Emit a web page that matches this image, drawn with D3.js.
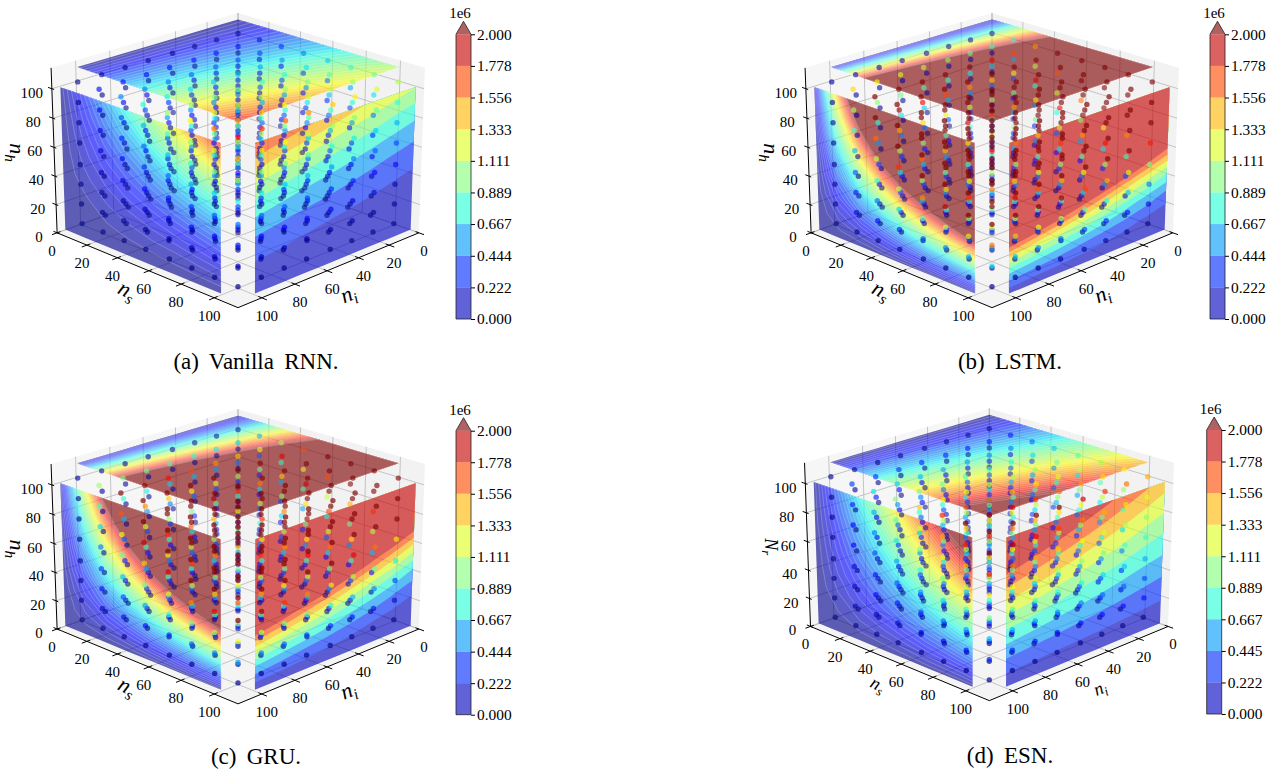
<!DOCTYPE html>
<html>
<head>
<meta charset="utf-8">
<script src="https://d3js.org/d3.v7.min.js"></script>
<style>
  html, body { margin: 0; background: #fff; }
  text { font-family: "Liberation Serif", serif; fill: #000; }
</style>
</head>
<body>
<div id="chart"></div>
<script>
// Grid levels shared by the three inputs
var nsLevels = [1, 15, 29, 43, 58, 72, 86, 100];
var niLevels = [1, 15, 29, 43, 58, 72, 86, 100];
var nhLevels = [1, 15, 29, 43, 58, 72, 86, 100];
var axisTicks = [0, 20, 40, 60, 80, 100];

// Colourbar (values in units of 1e4, same as the tables below)
var barLevels = [0, 22.2, 44.4, 66.7, 88.9, 111.1, 133.3, 155.6, 177.8, 200];
var barLabels = ["0.000", "0.222", "0.444", "0.667", "0.889", "1.111", "1.333", "1.556", "1.778", "2.000"];
var barLabelsEsn = ["0.000", "0.222", "0.445", "0.667", "0.889", "1.111", "1.333", "1.556", "1.778", "2.000"];

var rnnValues = [
 [[0,0,0,0,0,0,0,0],[0,0,0,0,0,0,0,0],[0,0,0,0,0,0,0,0],[0,0,0,0,0,0,0,0],[0,0,0,0,0,0,0,0],[0,0,0,0,0,0,0,1],[0,0,0,0,0,0,1,1],[0,0,0,0,0,1,1,1]],
 [[0,0,1,1,1,2,2,3],[0,1,1,2,2,3,3,4],[0,1,2,2,3,4,5,6],[0,1,2,3,4,5,6,7],[0,1,2,4,5,6,7,9],[0,2,3,4,6,7,9,10],[0,2,3,5,7,8,10,12],[0,2,4,6,8,9,11,13]],
 [[0,1,3,4,5,7,8,9],[0,2,4,5,7,9,11,12],[0,2,4,6,9,11,13,15],[0,3,5,8,10,13,15,18],[0,3,6,9,12,15,18,21],[0,4,7,10,14,17,21,24],[0,4,8,11,15,19,23,27],[0,4,9,13,17,21,25,30]],
 [[0,3,6,9,12,15,18,21],[0,4,7,11,14,18,21,25],[0,4,8,13,17,21,25,29],[0,5,10,14,19,24,29,33],[0,6,11,16,22,27,33,38],[0,6,12,18,24,30,36,42],[0,7,13,20,27,33,40,46],[1,8,15,22,29,36,43,50]],
 [[0,6,11,16,22,27,32,37],[0,6,12,19,25,31,37,43],[0,7,14,21,28,35,42,49],[1,8,16,23,32,39,47,55],[1,9,18,26,35,44,52,61],[1,10,19,28,38,48,57,66],[1,11,21,31,42,52,62,72],[1,12,23,33,45,56,67,78]],
 [[1,9,17,25,33,41,49,58],[1,10,19,28,37,47,56,65],[1,11,21,31,42,52,62,72],[1,12,23,34,46,57,68,79],[1,13,25,37,50,62,74,86],[1,14,27,40,54,67,80,93],[1,15,29,43,58,72,86,100],[1,16,31,46,62,77,92,107]],
 [[1,12,24,35,48,59,71,82],[1,14,26,39,52,65,78,90],[1,15,29,42,57,71,85,99],[1,16,31,46,62,77,92,107],[1,17,34,50,67,84,100,116],[1,19,36,54,72,90,107,125],[1,20,39,57,77,96,114,133],[1,21,41,61,82,102,122,142]],
 [[1,17,32,48,64,80,95,111],[1,18,35,52,70,87,104,121],[1,20,38,56,76,94,112,130],[1,21,41,60,81,101,120,140],[2,23,44,65,87,108,130,151],[2,24,47,69,93,115,138,160],[2,26,49,73,99,123,146,170],[2,27,52,77,104,130,155,180]]
];

var lstmValues = [
 [[0,0,0,0,0,0,0,0],[0,0,0,0,0,0,1,1],[0,0,0,1,1,1,1,1],[0,0,1,1,1,1,1,2],[0,0,1,1,1,2,2,2],[0,0,1,1,2,2,2,3],[0,1,1,1,2,2,3,3],[0,1,1,2,2,3,3,4]],
 [[0,2,4,5,7,9,11,12],[0,3,6,9,12,15,18,21],[0,4,8,12,17,21,25,29],[0,6,11,16,21,27,32,37],[0,7,13,20,26,33,39,46],[1,8,16,23,31,39,46,54],[1,9,18,27,36,45,53,62],[1,11,20,30,41,51,60,70]],
 [[0,7,13,19,26,32,39,45],[1,9,18,26,35,44,52,61],[1,11,22,33,44,55,66,77],[1,14,27,40,54,67,80,93],[1,16,32,47,63,79,94,109],[1,19,36,54,73,90,108,125],[1,21,41,61,82,101,121,141],[2,24,45,67,91,113,135,157]],
 [[1,15,28,42,57,71,84,98],[1,18,35,52,71,88,105,122],[1,22,42,62,84,104,125,145],[2,25,49,72,98,121,145,169],[2,29,56,83,112,139,166,194],[2,33,63,93,126,156,187,217],[2,36,70,103,139,173,207,240],[3,40,77,114,153,190,227,264]],
 [[2,27,51,76,103,128,153,178],[2,31,61,90,121,151,180,209],[2,36,70,104,140,173,207,241],[3,41,79,117,158,196,234,273],[3,46,89,132,178,220,263,306],[3,51,98,145,196,243,291,338],[4,55,107,159,214,266,318,370],[4,60,116,173,233,289,345,401]],
 [[3,41,79,117,158,196,234,272],[3,47,90,134,181,224,268,312],[4,53,102,151,203,252,302,351],[4,59,113,168,226,281,336,390],[4,65,125,186,251,311,372,432],[5,71,137,203,274,340,406,472],[5,77,148,220,296,368,439,511],[6,83,160,237,319,396,473,550]],
 [[4,58,112,167,225,279,334,388],[4,65,126,187,252,313,374,435],[5,72,140,207,279,347,414,482],[5,79,153,227,307,381,455,529],[6,87,168,249,336,417,498,579],[6,94,182,269,363,451,538,626],[7,101,195,289,390,484,578,673],[7,108,209,310,417,518,619,720]],
 [[5,79,152,225,304,377,451,524],[6,87,168,249,336,417,498,579],[6,95,184,272,367,456,544,633],[7,103,200,296,399,495,592,688],[7,112,216,321,433,537,642,746],[8,120,232,344,465,577,689,801],[9,128,248,368,496,616,735,855],[9,137,264,391,528,655,783,910]]
];

var gruValues = [
 [[0,0,0,0,0,0,0,0],[0,0,0,0,0,0,0,1],[0,0,0,0,1,1,1,1],[0,0,0,1,1,1,1,1],[0,0,1,1,1,1,2,2],[0,0,1,1,1,2,2,2],[0,0,1,1,2,2,2,3],[0,1,1,1,2,2,3,3]],
 [[0,1,3,4,5,7,8,9],[0,2,5,7,9,12,14,16],[0,3,7,10,13,17,20,23],[0,4,9,13,17,22,26,30],[0,6,11,16,22,27,32,37],[0,7,13,19,26,32,38,44],[1,8,15,22,30,37,44,51],[1,9,17,25,34,42,50,58]],
 [[0,5,10,14,19,24,28,33],[0,7,14,20,27,34,40,47],[1,9,17,26,35,43,52,60],[1,11,21,32,43,53,63,73],[1,13,25,38,51,63,76,88],[1,15,29,44,59,73,87,101],[1,17,33,49,67,83,99,115],[1,19,37,55,74,92,110,128]],
 [[1,11,21,31,42,52,62,72],[1,14,27,40,54,67,80,93],[1,17,33,48,65,81,96,112],[1,20,38,57,77,95,114,132],[2,23,45,66,89,111,132,154],[2,26,50,75,101,125,149,173],[2,29,56,83,112,139,166,194],[2,32,62,92,124,154,183,213]],
 [[1,20,38,56,76,94,112,131],[2,24,46,68,92,114,136,158],[2,28,53,79,107,133,159,184],[2,32,61,91,122,152,182,211],[2,36,70,103,139,173,206,240],[3,40,77,115,155,192,229,267],[3,44,85,126,171,212,253,294],[3,48,93,138,186,231,276,321]],
 [[2,30,58,86,117,145,173,201],[2,35,68,101,136,169,202,235],[3,40,78,115,155,193,230,268],[3,45,87,129,175,217,259,301],[3,51,98,145,195,243,290,337],[4,56,107,159,215,266,318,370],[4,61,117,174,234,291,347,404],[4,66,127,188,253,315,376,437]],
 [[3,43,83,123,166,206,246,286],[3,49,95,140,189,235,280,326],[4,55,106,157,212,263,314,366],[4,61,117,174,235,292,348,405],[4,67,130,193,260,323,385,448],[5,73,141,210,283,351,419,488],[5,79,153,227,306,380,454,528],[6,85,165,244,329,409,488,568]],
 [[4,58,112,166,224,278,332,386],[4,65,126,186,251,312,372,433],[5,72,139,206,278,345,412,479],[5,79,152,226,305,378,452,525],[6,86,167,247,334,414,495,575],[6,93,180,267,360,447,534,621],[7,100,194,287,387,481,574,668],[7,107,207,307,414,514,614,714]]
];

var esnValues = [
 [[0,0,0,1,1,1,1,1],[0,0,0,1,1,1,1,1],[0,0,0,1,1,1,1,1],[0,0,0,1,1,1,1,2],[0,0,1,1,1,1,2,2],[0,0,1,1,1,1,2,2],[0,0,1,1,1,1,2,2],[0,0,1,1,1,2,2,2]],
 [[0,3,5,8,11,14,16,19],[0,3,6,9,12,15,18,21],[0,3,7,10,13,16,20,23],[0,4,7,11,14,18,21,25],[0,4,8,12,16,19,23,27],[0,4,8,12,17,21,25,29],[0,5,9,13,18,22,27,31],[0,5,10,14,19,24,28,33]],
 [[0,6,11,16,22,27,32,37],[0,6,12,18,24,30,35,41],[0,7,13,19,26,32,39,45],[0,7,14,21,28,35,42,49],[1,8,15,23,31,38,46,53],[1,9,16,24,33,41,49,57],[1,9,18,26,35,44,52,61],[1,10,19,28,38,47,56,65]],
 [[1,9,16,24,33,41,49,57],[1,9,18,27,36,45,54,62],[1,10,20,29,40,49,59,68],[1,11,21,32,43,53,64,74],[1,12,23,34,46,58,69,80],[1,13,25,37,50,62,74,86],[1,14,27,39,53,66,79,92],[1,15,28,42,56,70,84,97]],
 [[1,12,23,34,46,57,68,79],[1,13,25,37,50,62,74,86],[1,14,27,40,55,68,81,94],[1,15,30,44,59,74,88,102],[1,17,32,47,64,79,95,110],[1,18,34,51,68,85,101,118],[1,19,37,54,73,91,108,126],[1,20,39,57,77,96,115,133]],
 [[1,15,29,43,58,72,86,100],[1,16,32,47,63,79,94,109],[1,18,35,51,69,86,103,120],[1,19,37,55,75,93,111,129],[1,21,40,60,81,100,120,139],[1,22,43,64,86,107,128,148],[2,24,46,68,92,114,136,158],[2,25,49,72,97,121,144,168]],
 [[1,18,36,53,71,89,106,123],[1,20,39,58,78,97,115,134],[1,22,42,62,84,105,125,145],[2,24,46,68,91,113,135,157],[2,25,49,73,98,122,146,169],[2,27,52,78,105,130,155,181],[2,29,56,83,112,139,166,193],[2,31,59,88,118,147,175,204]],
 [[1,22,42,63,85,105,126,146],[2,24,46,68,92,114,137,159],[2,26,50,74,100,124,148,173],[2,28,54,80,108,134,160,186],[2,30,58,86,116,144,172,200],[2,32,62,92,124,153,183,213],[2,34,66,98,132,163,195,227],[2,36,70,103,139,173,206,240]]
];

// Sizing parameters
//------------------
var svgWidth = 1285;
var svgHeight = 772;

var axisMax = 114;      // upper limit of all three axes
var faceOffset = 110;   // where the three contour faces sit
var fineStep = 5;       // level spacing of the left and top faces
var elev = 22.5 * Math.PI / 180;
var camDist = 8.75;

var panels = [
  {values: rnnValues, caption: "(a) Vanilla RNN.", capX: 256, capY: 368.5, cx: 238, cy: 151.7, kx: 260, ky: 238,
   zLabel: ["n", "h"], zLabelAt: [-228, -155], titleSize: 22, bar: {x: 456, top: 34.3, bottom: 319}, barLabels: barLabels},
  {values: lstmValues, caption: "(b) LSTM.", capX: 1010, capY: 368.5, cx: 992, cy: 151.7, kx: 260, ky: 238,
   zLabel: ["n", "h"], zLabelAt: [-228, -155], titleSize: 22, bar: {x: 1210, top: 34.3, bottom: 319}, barLabels: barLabels},
  {values: gruValues, caption: "(c) GRU.", capX: 256, capY: 764, cx: 238, cy: 547.9, kx: 260, ky: 238,
   zLabel: ["n", "h"], zLabelAt: [-228, -155], titleSize: 22, bar: {x: 456, top: 430.7, bottom: 714.7}, barLabels: barLabels},
  {values: esnValues, caption: "(d) ESN.", capX: 1010, capY: 763, cx: 989.3, cy: 546, kx: 257, ky: 236,
   zLabel: ["N", "r"], zLabelAt: [-224, -154], titleSize: 18, bar: {x: 1206.7, top: 430, bottom: 714}, barLabels: barLabelsEsn}
];

// Colours
//--------
var jet = d3.scaleLinear()
  .domain([0, 0.11, 0.125, 0.35, 0.375, 0.64, 0.66, 0.89, 0.91, 1])
  .range(["#00007f", "#0000ff", "#0000ff", "#00e5f7", "#19ffe3", "#f7ff07", "#fff200", "#ff1300", "#f20000", "#7f0000"])
  .clamp(true);
var overColor = "#7f0000";
var surfaceAlpha = 0.62;

function valueColor(v) {
  return v >= 200 ? overColor : jet(v / 200);
}

// SVG wrapper
//------------
var svg = d3.select("#chart")
  .append("svg")
  .attr("width", svgWidth)
  .attr("height", svgHeight)
  .style("display", "block");

var boxX = d3.scaleLinear().domain([0, axisMax]).range([-0.5, 0.5]);
var boxZ = d3.scaleLinear().domain([0, axisMax]).range([-0.375, 0.375]);

// grid index -> data value, grid points are not evenly spaced in general
var indexToNs = d3.scaleLinear().domain(d3.range(8)).range(nsLevels);
var indexToNi = d3.scaleLinear().domain(d3.range(8)).range(niLevels);
var indexToNh = d3.scaleLinear().domain(d3.range(8)).range(nhLevels);

// perspective view from the ns/ni corner, azimuth 45
function makeProjection(p) {
  return function(ns, ni, nh) {
    var X = boxX(ns), Y = boxX(ni), Z = boxZ(nh);
    var across = (X - Y) / Math.SQRT2;
    var toward = (X + Y) / Math.SQRT2;
    var up = Z * Math.cos(elev) - toward * Math.sin(elev);
    var depth = toward * Math.cos(elev) + Z * Math.sin(elev);
    var w = camDist / (camDist - depth);
    return [p.cx + p.kx * across * w, p.cy - p.ky * up * w, depth];
  };
}

var line2d = d3.line();

function clampGrid(v) {
  return Math.max(0, Math.min(7, v - 0.5));
}

// one contour face, cell is (column index, row index) -> 3d point
function drawFace(g, flat, thresholds, colorOf, toPoint, seams) {
  var contours = d3.contours().size([8, 8]).smooth(true).thresholds(thresholds)(flat);
  var face = g.append("g").attr("opacity", surfaceAlpha);
  contours.forEach(function(c) {
    var d = "";
    c.coordinates.forEach(function(poly) {
      poly.forEach(function(ring) {
        d += line2d(ring.map(function(pt) {
          return toPoint(clampGrid(pt[0]), clampGrid(pt[1]));
        })) + "Z";
      });
    });
    if (!d) return;
    var path = face.append("path")
      .attr("d", d)
      .attr("fill", colorOf(c.value))
      .attr("fill-rule", "evenodd");
    if (seams && c.value > 0) {
      path.attr("stroke", "#fff").attr("stroke-width", 0.5).attr("stroke-opacity", 0.45);
    }
  });
}

function drawPanel(p) {
  var project = makeProjection(p);
  var g = svg.append("g");
  var pt = function(ns, ni, nh) { return project(ns, ni, nh).slice(0, 2); };

  // panes
  var panes = [
    {c: [[0, axisMax, 0], [0, 0, 0], [0, 0, axisMax], [0, axisMax, axisMax]], fill: "#f6f6f6"},
    {c: [[axisMax, 0, 0], [0, 0, 0], [0, 0, axisMax], [axisMax, 0, axisMax]], fill: "#f2f2f2"},
    {c: [[0, 0, 0], [axisMax, 0, 0], [axisMax, axisMax, 0], [0, axisMax, 0]], fill: "#f4f4f4"}
  ];
  panes.forEach(function(pane) {
    g.append("path")
      .attr("d", line2d(pane.c.map(function(q) { return pt(q[0], q[1], q[2]); })) + "Z")
      .attr("fill", pane.fill);
  });

  // grid lines
  var grid = g.append("g").attr("stroke", "#b8b8b8").attr("stroke-width", 0.8).attr("fill", "none");
  axisTicks.forEach(function(v) {
    [
      [[v, 0, 0], [v, axisMax, 0]],
      [[0, v, 0], [axisMax, v, 0]],
      [[0, v, 0], [0, v, axisMax]],
      [[0, 0, v], [0, axisMax, v]],
      [[v, 0, 0], [v, 0, axisMax]],
      [[0, 0, v], [axisMax, 0, v]]
    ].forEach(function(s) {
      grid.append("path").attr("d", line2d([pt(s[0][0], s[0][1], s[0][2]), pt(s[1][0], s[1][1], s[1][2])]));
    });
  });

  // axes and ticks
  var axes = g.append("g").attr("stroke", "#000").attr("stroke-width", 1).attr("fill", "none");
  axes.append("path").attr("d", line2d([pt(0, axisMax, 0), pt(axisMax, axisMax, 0)]));
  axes.append("path").attr("d", line2d([pt(axisMax, 0, 0), pt(axisMax, axisMax, 0)]));
  axes.append("path").attr("d", line2d([pt(0, axisMax, 0), pt(0, axisMax, axisMax)]));
  axisTicks.forEach(function(v) {
    axes.append("path").attr("d", line2d([pt(v, axisMax - 2, 0), pt(v, axisMax + 3, 0)]));
    axes.append("path").attr("d", line2d([pt(axisMax - 2, v, 0), pt(axisMax + 3, v, 0)]));
    axes.append("path").attr("d", line2d([pt(1.5, axisMax, v), pt(-2.5, axisMax, v)]));
  });

  var labels = g.append("g").attr("font-size", 15).attr("text-anchor", "middle");
  axisTicks.forEach(function(v) {
    var a = pt(v, axisMax, 0), b = pt(axisMax, v, 0), c = pt(0, axisMax, v);
    labels.append("text").attr("x", a[0] - 5).attr("y", a[1] + 23).text(v);
    labels.append("text").attr("x", b[0] + 5).attr("y", b[1] + 23).text(v);
    labels.append("text").attr("x", c[0] - 18 - v * 0.02).attr("y", c[1] + 9).text(v);
  });

  // axis titles
  function axisTitle(x, y, rot, main, sub) {
    var t = g.append("text")
      .attr("transform", "translate(" + x + "," + y + ") rotate(" + rot + ")")
      .attr("text-anchor", "middle")
      .attr("font-size", p.titleSize)
      .attr("font-style", "italic");
    t.append("tspan").text(main);
    t.append("tspan").attr("dy", "0.3em").attr("font-size", p.titleSize * 0.7).text(sub);
  }
  var front = pt(axisMax, axisMax, 0);
  axisTitle(front[0] - 114, front[1] - 11, 27, "n", "s");
  axisTitle(front[0] + 113, front[1] - 7, -22, "n", "i");
  axisTitle(front[0] + p.zLabelAt[0], front[1] + p.zLabelAt[1], 90, p.zLabel[0], p.zLabel[1]);

  // contour faces, stored cube is [nh][ni][ns]
  var cube = p.values;
  var leftFlat = [], rightFlat = [], topFlat = [];
  d3.range(8).forEach(function(row) {
    d3.range(8).forEach(function(col) {
      leftFlat.push(cube[row][7][col]);
      rightFlat.push(cube[row][col][7]);
      topFlat.push(cube[7][row][col]);
    });
  });

  var fineLevels = d3.range(0, 200, fineStep).concat([200]);
  var fineColor = function(t) { return t >= 200 ? overColor : jet((t + fineStep / 2) / 200); };
  var bandLevels = barLevels.slice(0, 9);
  var bandColor = function(t) {
    var i = bandLevels.indexOf(t);
    return jet((barLevels[i] + barLevels[i + 1]) / 400);
  };

  drawFace(g, topFlat, fineLevels, fineColor, function(c, r) {
    return pt(indexToNs(c), indexToNi(r), faceOffset);
  }, true);
  drawFace(g, leftFlat, fineLevels, fineColor, function(c, r) {
    return pt(indexToNs(c), faceOffset, indexToNh(r));
  }, true);
  drawFace(g, rightFlat, bandLevels, bandColor, function(c, r) {
    return pt(faceOffset, indexToNi(c), indexToNh(r));
  }, false);

  // scatter points, far ones first
  var points = [];
  nhLevels.forEach(function(nh, k) {
    niLevels.forEach(function(ni, j) {
      nsLevels.forEach(function(ns, i) {
        var q = project(ns, ni, nh);
        points.push({x: q[0], y: q[1], depth: q[2], value: cube[k][j][i]});
      });
    });
  });
  points.sort(function(a, b) { return a.depth - b.depth; });
  var shade = d3.scaleLinear()
    .domain(d3.extent(points, function(d) { return d.depth; }))
    .range([0.45, 0.75]);

  g.append("g").selectAll("circle")
    .data(points)
    .enter()
    .append("circle")
    .attr("cx", function(d) { return d.x; })
    .attr("cy", function(d) { return d.y; })
    .attr("r", 2.7)
    .attr("fill", function(d) { return valueColor(d.value); })
    .attr("opacity", function(d) { return shade(d.depth); });

  // colourbar
  var bar = p.bar;
  var barWidth = 15;
  var barY = d3.scaleLinear().domain([0, 200]).range([bar.bottom, bar.top]);
  var cb = g.append("g");
  d3.range(9).forEach(function(i) {
    cb.append("rect")
      .attr("x", bar.x)
      .attr("width", barWidth)
      .attr("y", barY(barLevels[i + 1]))
      .attr("height", barY(barLevels[i]) - barY(barLevels[i + 1]))
      .attr("fill", jet((barLevels[i] + barLevels[i + 1]) / 400))
      .attr("opacity", surfaceAlpha);
  });
  var tipY = bar.top - 13;
  cb.append("path")
    .attr("d", line2d([[bar.x, bar.top], [bar.x + barWidth / 2, tipY], [bar.x + barWidth, bar.top]]) + "Z")
    .attr("fill", overColor)
    .attr("opacity", surfaceAlpha);
  cb.append("path")
    .attr("d", line2d([[bar.x, bar.bottom], [bar.x, bar.top], [bar.x + barWidth / 2, tipY],
      [bar.x + barWidth, bar.top], [bar.x + barWidth, bar.bottom]]) + "Z")
    .attr("fill", "none")
    .attr("stroke", "#222")
    .attr("stroke-width", 0.8);

  var barAxis = d3.axisRight(barY)
    .tickValues(barLevels)
    .tickSize(4)
    .tickSizeOuter(0)
    .tickFormat(function(d, i) { return p.barLabels[i]; });
  var barAxisG = cb.append("g")
    .attr("transform", "translate(" + (bar.x + barWidth) + ",0)")
    .call(barAxis);
  barAxisG.select(".domain").remove();
  barAxisG.selectAll("text").attr("font-size", 15.4).attr("font-family", "Liberation Serif").attr("fill", "#000").attr("x", 6);
  barAxisG.selectAll("line").attr("stroke", "#000");

  cb.append("text")
    .attr("x", bar.x + barWidth / 2 - 3.5)
    .attr("y", tipY - 3)
    .attr("text-anchor", "middle")
    .attr("font-size", 15)
    .text("1e6");

  // caption
  g.append("text")
    .attr("x", p.capX)
    .attr("y", p.capY)
    .attr("text-anchor", "middle")
    .attr("font-size", 23)
    .attr("word-spacing", 4.5)
    .text(p.caption);
}

panels.forEach(drawPanel);
</script>
</body>
</html>
